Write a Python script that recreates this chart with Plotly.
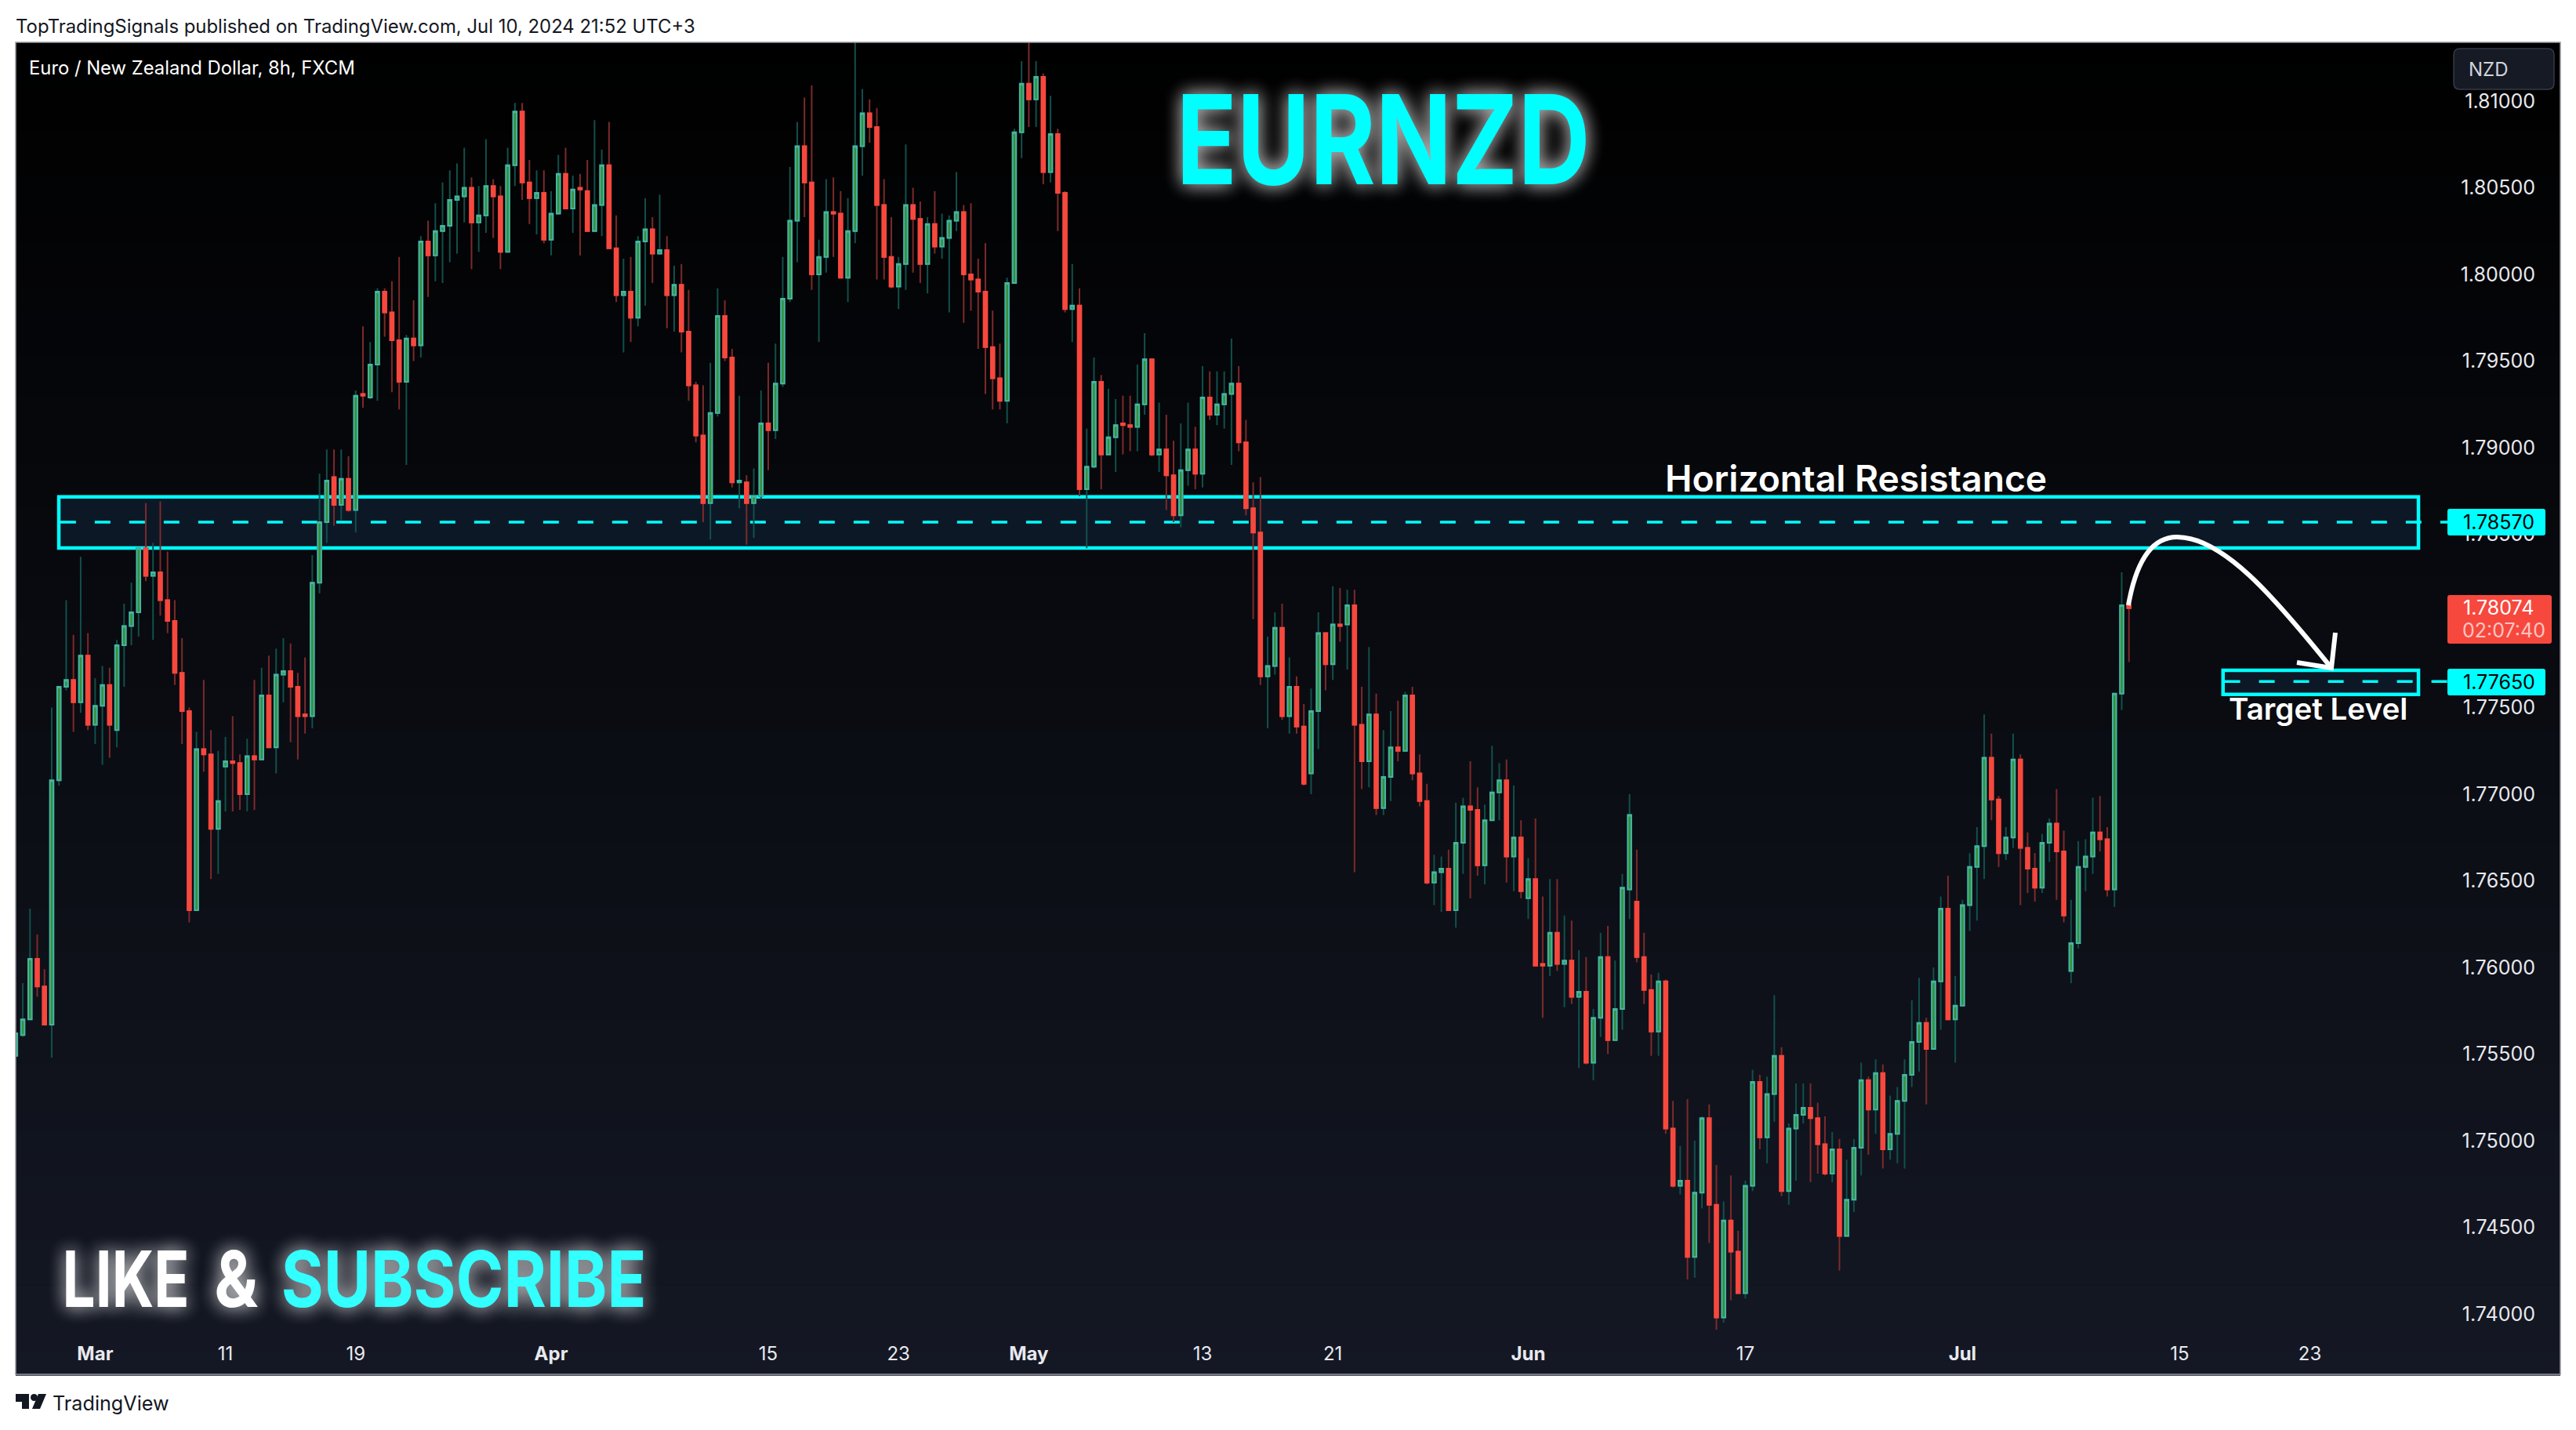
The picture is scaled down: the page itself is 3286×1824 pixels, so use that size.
import plotly.graph_objects as go

# ---- price data (8h candles) ----
opens = [
 1.7549,1.7561,1.7570,1.7605,1.7589,1.7567,1.7708,1.7762,1.7766,1.7753,
 1.7780,1.7740,1.7751,1.7763,1.7737,1.7786,1.7797,1.7805,1.7842,1.7826,
 1.7828,1.7812,1.7800,1.7770,1.7748,1.7633,1.7726,1.7723,1.7680,1.7716,
 1.7719,1.7718,1.7700,1.7722,1.7720,1.7757,1.7727,1.7769,1.7771,1.7762,
 1.7746,1.7745,1.7822,1.7857,1.7883,1.7867,1.7882,1.7864,1.7931,1.7929,
 1.7948,1.7990,1.7978,1.7962,1.7938,1.7963,1.7959,1.8019,1.8011,1.8025,
 1.8028,1.8043,1.8045,1.8050,1.8030,1.8034,1.8051,1.8045,1.8013,1.8063,
 1.8094,1.8053,1.8044,1.8047,1.8020,1.8035,1.8058,1.8038,1.8050,1.8048,
 1.8025,1.8040,1.8063,1.8015,1.7988,1.7990,1.7975,1.8019,1.8026,1.8012,
 1.8014,1.7988,1.7994,1.7967,1.7936,1.7907,1.7868,1.7920,1.7976,1.7952,
 1.7880,1.7880,1.7868,1.7872,1.7914,1.7910,1.7937,1.7986,1.8031,1.8074,
 1.8053,1.8000,1.8010,1.8036,1.8035,1.7998,1.8025,1.8074,1.8093,1.8085,
 1.8040,1.8010,1.7993,1.8006,1.8040,1.8032,1.8006,1.8029,1.8016,1.8021,
 1.8031,1.8036,1.8000,1.7997,1.7990,1.7958,1.7940,1.7927,1.7995,1.8082,
 1.8110,1.8101,1.8114,1.8059,1.8081,1.8047,1.7980,1.7982,1.7876,1.7889,
 1.7938,1.7896,1.7906,1.7914,1.7913,1.7912,1.7925,1.7951,1.7896,1.7899,
 1.7884,1.7861,1.7887,1.7899,1.7885,1.7929,1.7919,1.7925,1.7931,1.7937,
 1.7903,1.7865,1.7851,1.7768,1.7774,1.7796,1.7745,1.7762,1.7739,1.7712,
 1.7748,1.7793,1.7775,1.7798,1.7798,1.7809,1.7740,1.7719,1.7746,1.7692,
 1.7710,1.7727,1.7725,1.7757,1.7712,1.7696,1.7649,1.7655,1.7657,1.7633,
 1.7672,1.7693,1.7691,1.7659,1.7685,1.7701,1.7708,1.7664,1.7675,1.7640,
 1.7651,1.7602,1.7601,1.7620,1.7602,1.7604,1.7583,1.7586,1.7545,1.7571,
 1.7606,1.7558,1.7576,1.7645,1.7638,1.7606,1.7587,1.7563,1.7592,1.7507,
 1.7474,1.7477,1.7433,1.7470,1.7513,1.7463,1.7398,1.7454,1.7436,1.7412,
 1.7474,1.7534,1.7502,1.7527,1.7549,1.7471,1.7507,1.7515,1.7519,1.7513,
 1.7498,1.7481,1.7495,1.7445,1.7466,1.7496,1.7535,1.7518,1.7539,1.7495,
 1.7504,1.7523,1.7538,1.7557,1.7568,1.7553,1.7592,1.7634,1.7570,1.7578,
 1.7636,1.7658,1.7670,1.7721,1.7697,1.7666,1.7675,1.7720,1.7669,1.7657,
 1.7646,1.7672,1.7683,1.7667,1.7598,1.7614,1.7658,1.7664,1.7678,1.7674,
 1.7645,1.7758,1.7809]
closes = [
 1.7562,1.7570,1.7605,1.7589,1.7567,1.7708,1.7762,1.7766,1.7753,1.7780,
 1.7740,1.7751,1.7763,1.7740,1.7786,1.7797,1.7805,1.7842,1.7826,1.7828,
 1.7812,1.7800,1.7770,1.7748,1.7633,1.7726,1.7723,1.7680,1.7696,1.7719,
 1.7718,1.7700,1.7722,1.7720,1.7757,1.7727,1.7769,1.7771,1.7762,1.7745,
 1.7745,1.7822,1.7857,1.7881,1.7867,1.7882,1.7864,1.7930,1.7930,1.7948,
 1.7990,1.7978,1.7962,1.7938,1.7963,1.7959,1.8019,1.8011,1.8025,1.8028,
 1.8043,1.8045,1.8050,1.8030,1.8034,1.8051,1.8045,1.8013,1.8063,1.8094,
 1.8053,1.8044,1.8047,1.8020,1.8035,1.8058,1.8038,1.8049,1.8049,1.8025,
 1.8040,1.8063,1.8015,1.7988,1.7990,1.7975,1.8019,1.8026,1.8012,1.8014,
 1.7988,1.7994,1.7967,1.7936,1.7907,1.7868,1.7920,1.7976,1.7952,1.7880,
 1.7881,1.7868,1.7872,1.7914,1.7910,1.7937,1.7986,1.8031,1.8074,1.8053,
 1.8000,1.8010,1.8036,1.8035,1.7998,1.8025,1.8074,1.8093,1.8085,1.8040,
 1.8010,1.7993,1.8006,1.8040,1.8032,1.8006,1.8029,1.8016,1.8021,1.8031,
 1.8036,1.8000,1.7997,1.7990,1.7958,1.7940,1.7927,1.7995,1.8082,1.8110,
 1.8101,1.8114,1.8059,1.8081,1.8047,1.7980,1.7982,1.7876,1.7889,1.7938,
 1.7896,1.7906,1.7913,1.7913,1.7912,1.7925,1.7951,1.7896,1.7899,1.7884,
 1.7861,1.7887,1.7899,1.7885,1.7929,1.7919,1.7925,1.7931,1.7937,1.7903,
 1.7865,1.7851,1.7768,1.7774,1.7796,1.7745,1.7762,1.7739,1.7706,1.7748,
 1.7793,1.7775,1.7798,1.7797,1.7809,1.7740,1.7719,1.7746,1.7692,1.7710,
 1.7727,1.7725,1.7757,1.7712,1.7696,1.7649,1.7655,1.7657,1.7633,1.7672,
 1.7693,1.7691,1.7659,1.7685,1.7701,1.7708,1.7664,1.7675,1.7644,1.7651,
 1.7601,1.7601,1.7620,1.7602,1.7604,1.7583,1.7586,1.7545,1.7571,1.7606,
 1.7558,1.7576,1.7646,1.7688,1.7606,1.7587,1.7563,1.7592,1.7507,1.7474,
 1.7477,1.7433,1.7470,1.7513,1.7463,1.7398,1.7454,1.7436,1.7412,1.7474,
 1.7534,1.7502,1.7527,1.7549,1.7471,1.7507,1.7515,1.7519,1.7513,1.7498,
 1.7481,1.7495,1.7445,1.7466,1.7496,1.7535,1.7518,1.7539,1.7495,1.7504,
 1.7523,1.7538,1.7557,1.7568,1.7553,1.7592,1.7634,1.7570,1.7578,1.7636,
 1.7658,1.7670,1.7721,1.7697,1.7666,1.7675,1.7720,1.7669,1.7657,1.7646,
 1.7672,1.7683,1.7667,1.7630,1.7614,1.7658,1.7664,1.7678,1.7674,1.7645,
 1.7758,1.7809,1.78074]
highs = [
 1.7562,1.7591,1.7634,1.7619,1.7599,1.7750,1.7762,1.7812,1.7792,1.7837,
 1.7793,1.7767,1.7774,1.7773,1.7789,1.7810,1.7822,1.7842,1.7868,1.7845,
 1.7869,1.7840,1.7812,1.7790,1.7750,1.7736,1.7766,1.7737,1.7725,1.7733,
 1.7745,1.7723,1.7732,1.7766,1.7773,1.7780,1.7784,1.7790,1.7787,1.7770,
 1.7779,1.7838,1.7885,1.7899,1.7899,1.7899,1.7895,1.7933,1.7970,1.7961,
 1.7992,1.7992,1.7996,1.8010,1.7965,1.7985,1.8022,1.8031,1.8041,1.8053,
 1.8060,1.8064,1.8073,1.8056,1.8051,1.8078,1.8055,1.8051,1.8073,1.8099,
 1.8099,1.8066,1.8060,1.8060,1.8048,1.8069,1.8073,1.8057,1.8058,1.8066,
 1.8089,1.8072,1.8088,1.8034,1.8009,1.8010,1.8022,1.8044,1.8033,1.8046,
 1.8022,1.8005,1.8006,1.7991,1.7938,1.7936,1.7949,1.7992,1.7985,1.7957,
 1.7930,1.7884,1.7888,1.7933,1.7949,1.7960,1.8010,1.8062,1.8088,1.8102,
 1.8109,1.8020,1.8055,1.8056,1.8048,1.8044,1.8134,1.8107,1.8101,1.8096,
 1.8055,1.8033,1.8010,1.8075,1.8050,1.8042,1.8033,1.8048,1.8035,1.8034,
 1.8059,1.8040,1.8041,1.8009,1.8018,1.7979,1.7960,1.7998,1.8084,1.8123,
 1.8134,1.8123,1.8116,1.8103,1.8084,1.8048,1.8006,1.7992,1.7911,1.7952,
 1.7942,1.7934,1.7928,1.7930,1.7930,1.7948,1.7966,1.7951,1.7926,1.7919,
 1.7904,1.7914,1.7926,1.7912,1.7947,1.7944,1.7944,1.7944,1.7963,1.7947,
 1.7916,1.7880,1.7883,1.7791,1.7805,1.7810,1.7779,1.7768,1.7752,1.7761,
 1.7805,1.7793,1.7820,1.7819,1.7818,1.7818,1.7762,1.7785,1.7758,1.7737,
 1.7748,1.7754,1.7759,1.7762,1.7723,1.7706,1.7665,1.7664,1.7668,1.7695,
 1.7698,1.7719,1.7704,1.7694,1.7728,1.7718,1.7720,1.7705,1.7685,1.7663,
 1.7686,1.7641,1.7651,1.7651,1.7630,1.7627,1.7610,1.7606,1.7576,1.7620,
 1.7624,1.7604,1.7654,1.7700,1.7668,1.7620,1.7596,1.7597,1.7593,1.7523,
 1.7497,1.7524,1.7500,1.7514,1.7521,1.7486,1.7465,1.7480,1.7448,1.7477,
 1.7541,1.7538,1.7537,1.7584,1.7554,1.7510,1.7533,1.7533,1.7533,1.7522,
 1.7514,1.7505,1.7501,1.7489,1.7501,1.7545,1.7537,1.7547,1.7544,1.7526,
 1.7531,1.7547,1.7581,1.7594,1.7571,1.7600,1.7641,1.7653,1.7595,1.7639,
 1.7666,1.7681,1.7746,1.7735,1.7699,1.7681,1.7735,1.7723,1.7678,1.7666,
 1.7677,1.7686,1.7703,1.7679,1.7639,1.7673,1.7674,1.7698,1.7699,1.7681,
 1.7758,1.7828,1.7809]
lows = [
 1.7549,1.7560,1.7570,1.7583,1.7567,1.7548,1.7705,1.7760,1.7736,1.7747,
 1.7737,1.7729,1.7717,1.7721,1.7727,1.7762,1.7786,1.7791,1.7823,1.7789,
 1.7803,1.7793,1.7763,1.7729,1.7626,1.7633,1.7713,1.7651,1.7654,1.7690,
 1.7690,1.7691,1.7690,1.7691,1.7720,1.7727,1.7712,1.7753,1.7730,1.7720,
 1.7735,1.7738,1.7816,1.7845,1.7855,1.7858,1.7863,1.7851,1.7923,1.7928,
 1.7927,1.7964,1.7932,1.7922,1.7890,1.7950,1.7952,1.7987,1.7996,1.7995,
 1.8007,1.8012,1.8030,1.8003,1.8013,1.8024,1.8021,1.8003,1.8013,1.8051,
 1.8043,1.8029,1.8023,1.8018,1.8011,1.8035,1.8038,1.8024,1.8011,1.8025,
 1.8025,1.8022,1.8015,1.7984,1.7955,1.7961,1.7970,1.7982,1.7995,1.8012,
 1.7969,1.7967,1.7955,1.7927,1.7903,1.7857,1.7847,1.7918,1.7950,1.7877,
 1.7865,1.7844,1.7848,1.7870,1.7887,1.7905,1.7935,1.7984,1.8007,1.8033,
 1.7991,1.7961,1.8001,1.8010,1.7998,1.7984,1.8018,1.8057,1.8076,1.7997,
 1.7997,1.7992,1.7980,1.7991,1.8001,1.7995,1.7989,1.8012,1.8009,1.7978,
 1.8025,1.7972,1.7979,1.7957,1.7931,1.7922,1.7922,1.7914,1.7995,1.8067,
 1.8085,1.8085,1.8052,1.8053,1.8025,1.7978,1.7961,1.7872,1.7842,1.7888,
 1.7876,1.7896,1.7886,1.7896,1.7898,1.7898,1.7919,1.7895,1.7886,1.7864,
 1.7857,1.7854,1.7878,1.7876,1.7877,1.7916,1.7913,1.7911,1.7890,1.7898,
 1.7861,1.7801,1.7763,1.7738,1.7769,1.7743,1.7735,1.7735,1.7705,1.7700,
 1.7726,1.7760,1.7766,1.7788,1.7772,1.7655,1.7703,1.7704,1.7688,1.7688,
 1.7696,1.7719,1.7725,1.7708,1.7693,1.7648,1.7636,1.7632,1.7633,1.7623,
 1.7654,1.7640,1.7653,1.7648,1.7685,1.7685,1.7649,1.7644,1.7640,1.7628,
 1.7601,1.7571,1.7595,1.7598,1.7577,1.7579,1.7542,1.7544,1.7535,1.7560,
 1.7550,1.7558,1.7564,1.7628,1.7603,1.7579,1.7549,1.7549,1.7504,1.7473,
 1.7469,1.7420,1.7421,1.7461,1.7441,1.7391,1.7395,1.7408,1.7412,1.7409,
 1.7471,1.7495,1.7487,1.7511,1.7468,1.7463,1.7477,1.7510,1.7476,1.7481,
 1.7480,1.7476,1.7425,1.7445,1.7459,1.7480,1.7492,1.7504,1.7484,1.7489,
 1.7487,1.7484,1.7531,1.7540,1.7521,1.7553,1.7564,1.7570,1.7545,1.7578,
 1.7621,1.7627,1.7651,1.7685,1.7658,1.7662,1.7669,1.7636,1.7643,1.7638,
 1.7643,1.7661,1.7639,1.7626,1.7591,1.7611,1.7644,1.7654,1.7667,1.7641,
 1.7635,1.77485,1.77762]
bar_index = list(range(len(closes)))

date_tick_bars = [11, 29, 47, 74, 104, 122, 140, 164, 182, 209, 239, 269, 299, 317]
date_tick_text = ["<b>Mar</b>", "11", "19", "<b>Apr</b>", "15", "23", "<b>May</b>", "13", "21",
                  "<b>Jun</b>", "17", "<b>Jul</b>", "15", "23"]
price_ticks = [1.74, 1.745, 1.75, 1.755, 1.76, 1.765, 1.77, 1.775, 1.78, 1.785, 1.79, 1.795, 1.80, 1.805, 1.81]

resistance_level = 1.7857
resistance_top, resistance_bottom = 1.78716, 1.78421
resistance_bars = (5.98, 332.0)
target_level = 1.7765
target_top, target_bottom = 1.77715, 1.77576
target_bars = (305.0, 332.0)
level_end_bar = 336.0
last_price = "1.78074"
countdown = "02:07:40"

assert len(opens) == len(highs) == len(lows) == len(closes)

# ---- page geometry helpers (decoration only) ----
W, H = 3286, 1824
L, R, T, B = 20, 3266, 54, 1753
PX = lambda x: (x - L) / (R - L)
PY = lambda y: 1 - (y - T) / (B - T)

CYAN = "#00FFFF"
FONT = "Inter"

def rrect(x0, y0, x1, y1, r):
    a, b, c, d = PX(x0), PX(x1), PY(y0), PY(y1)
    rx, ry = r / (R - L), r / (B - T)
    return (f"M{a+rx},{c} L{b-rx},{c} Q{b},{c} {b},{c-ry} L{b},{d+ry} Q{b},{d} {b-rx},{d} "
            f"L{a+rx},{d} Q{a},{d} {a},{d+ry} L{a},{c-ry} Q{a},{c} {a+rx},{c} Z")

fig = go.Figure()

# wicks
fig.add_trace(go.Candlestick(
    x=bar_index, open=opens, high=highs, low=lows, close=closes,
    increasing=dict(line=dict(color="#11504b", width=2), fillcolor="#388e3c"),
    decreasing=dict(line=dict(color="#7c2a2b", width=2), fillcolor="#f7483e"),
    hoverinfo="skip", showlegend=False))
# bodies with their own border colour
fig.add_trace(go.Candlestick(
    x=bar_index, open=opens, close=closes,
    high=[max(o, c) for o, c in zip(opens, closes)],
    low=[min(o, c) for o, c in zip(opens, closes)],
    increasing=dict(line=dict(color="#45b5a2", width=2), fillcolor="#388e3c"),
    decreasing=dict(line=dict(color="#f7483e", width=2), fillcolor="#f7483e"),
    hoverinfo="skip", showlegend=False))

shapes = []
# background gradient
N = 60
for i in range(N):
    t = (i + 0.5) / N
    c = f"rgb({round(0x14*t)},{round(0x18*t)},{round(0x24*t)})"
    shapes.append(dict(type="rect", xref="paper", yref="paper", layer="below",
                       x0=0, x1=1, y0=1 - i / N, y1=1 - (i + 1) / N - 0.001,
                       fillcolor=c, line_width=0))
# zones
for (x0, x1), top, bot, lvl in [(resistance_bars, resistance_top, resistance_bottom, resistance_level),
                                 (target_bars, target_top, target_bottom, target_level)]:
    shapes.append(dict(type="rect", xref="x", yref="y", layer="below", x0=x0, x1=x1, y0=bot, y1=top,
                       fillcolor="#0d1826", line=dict(color=CYAN, width=4.5)))
    shapes.append(dict(type="line", xref="x", yref="y", layer="below",
                       x0=x0 + 0.2, x1=level_end_bar, y0=lvl, y1=lvl,
                       line=dict(color=CYAN, width=3.5, dash="20px,24px")))
# curved arrow
shapes.append(dict(type="path", xref="paper", yref="paper", line=dict(color="white", width=6),
    path=(f"M{PX(2715)},{PY(772)} C{PX(2725)},{PY(715)} {PX(2745)},{PY(685)} {PX(2777)},{PY(685)} "
          f"C{PX(2835)},{PY(685)} {PX(2900)},{PY(760)} {PX(2974)},{PY(852)}")))
shapes.append(dict(type="path", xref="paper", yref="paper", line=dict(color="white", width=6),
    path=f"M{PX(2930)},{PY(845)} L{PX(2974)},{PY(852)} L{PX(2979)},{PY(807)}"))
# price boxes
shapes.append(dict(type="path", xref="paper", yref="paper", path=rrect(3122, 649, 3247, 683, 3),
                   fillcolor=CYAN, line_width=0))
shapes.append(dict(type="path", xref="paper", yref="paper", path=rrect(3122, 853, 3247, 887, 3),
                   fillcolor=CYAN, line_width=0))
shapes.append(dict(type="path", xref="paper", yref="paper", path=rrect(3122, 759, 3255, 821, 3),
                   fillcolor="#f7483e", line_width=0))
# currency pill
shapes.append(dict(type="path", xref="paper", yref="paper", path=rrect(3130, 62, 3258, 114, 8),
                   fillcolor="#161a25", line=dict(color="#363a45", width=1.5)))
# plot frame
shapes.append(dict(type="rect", xref="paper", yref="paper", x0=0, x1=1, y0=0, y1=1,
                   line=dict(color="#9598a1", width=1.5)))
# TradingView mark
shapes.append(dict(type="path", xref="paper", yref="paper", fillcolor="#131722", line_width=0,
    path=(f"M{PX(20)},{PY(1778)} L{PX(37)},{PY(1778)} L{PX(37)},{PY(1797)} L{PX(28)},{PY(1797)} "
          f"L{PX(28)},{PY(1788)} L{PX(20)},{PY(1788)} Z")))
shapes.append(dict(type="circle", xref="paper", yref="paper", fillcolor="#131722", line_width=0,
                   x0=PX(39), x1=PX(48), y0=PY(1778), y1=PY(1787)))
shapes.append(dict(type="path", xref="paper", yref="paper", fillcolor="#131722", line_width=0,
    path=f"M{PX(49)},{PY(1778)} L{PX(59)},{PY(1778)} L{PX(51)},{PY(1797)} L{PX(41)},{PY(1797)} Z"))

def note(text, x, y, size, color="white", anchor="left", family=FONT, weight=400, shadow=None):
    font = dict(family=family, size=size, color=color, weight=weight)
    if shadow:
        font["shadow"] = shadow
    return dict(text=text, xref="paper", yref="paper", x=PX(x), y=PY(y), xanchor=anchor, yanchor="middle",
                showarrow=False, font=font, borderpad=0, borderwidth=0)

GLOW = "0 0 26px rgba(255,255,255,0.6), 0 0 26px rgba(255,255,255,0.4)"
annotations = [
    note("TopTradingSignals published on TradingView.com, Jul 10, 2024 21:52 UTC+3", 20, 33, 23.9, "#131722"),
    note("Euro / New Zealand Dollar, 8h, FXCM", 37, 87, 23.8),
    note("TradingView", 67, 1790, 25.2, "#131722"),
    note("NZD", 3149, 88, 24, "#d1d4dc"),
    note("EURNZD", 1765, 178, 158, CYAN, anchor="center", weight=700, shadow=GLOW),
    note("LIKE", 160, 1631, 99, "white", anchor="center", weight=700, shadow=GLOW),
    note("&", 301, 1631, 99, "white", anchor="center", weight=700, shadow=GLOW),
    note("SUBSCRIBE", 591, 1631, 99, "#33ffff", anchor="center", weight=700, shadow=GLOW),
    note("Horizontal Resistance", 2124, 610, 46.2, "white", weight=600),
    note("Target Level", 2843, 904, 38.6, "white", weight=600),
    note(f"{resistance_level:.5f}", 3142, 666, 25, "#000000"),
    note(f"{target_level:.5f}", 3142, 870, 25, "#000000"),
    note(last_price, 3142, 775, 25, "white"),
    note(countdown, 3141, 804, 25, "rgba(255,255,255,0.7)"),
]

fig.update_layout(
    width=W, height=H, autosize=False,
    margin=dict(l=L, r=W - R, t=T, b=H - B, pad=0),
    paper_bgcolor="white", plot_bgcolor="rgba(0,0,0,0)",
    showlegend=False, shapes=shapes, annotations=annotations,
    xaxis=dict(range=[0.02, 351.6], rangeslider=dict(visible=False), showgrid=False, zeroline=False,
               showline=False, ticks="", tickmode="array", tickvals=date_tick_bars, ticktext=date_tick_text,
               ticklabelposition="inside", ticklabelstandoff=10,
               tickfont=dict(family=FONT, size=24, color="#e8e9ee")),
    yaxis=dict(range=[1.73652, 1.81339], side="right", showgrid=False, zeroline=False, showline=False,
               ticks="", tickmode="array", tickvals=price_ticks, tickformat=".5f",
               ticklabelposition="inside", ticklabelstandoff=29,
               tickfont=dict(family=FONT, size=25, color="#e8e9ee")),
)

# The poster titles use a condensed face that is not installed: fit the real text to its measured width.
post = """
document.body.style.margin='0';document.body.style.overflow='hidden';
var fit={'EURNZD':528,'LIKE':162,'&':56,'SUBSCRIBE':466};
document.querySelectorAll('.annotation-text').forEach(function(t){
  var w=fit[t.textContent];
  if(w){t.setAttribute('textLength',w);t.setAttribute('lengthAdjust','spacingAndGlyphs');}
});
"""
fig.write_html("out.html", config=dict(displayModeBar=False), post_script=post)
